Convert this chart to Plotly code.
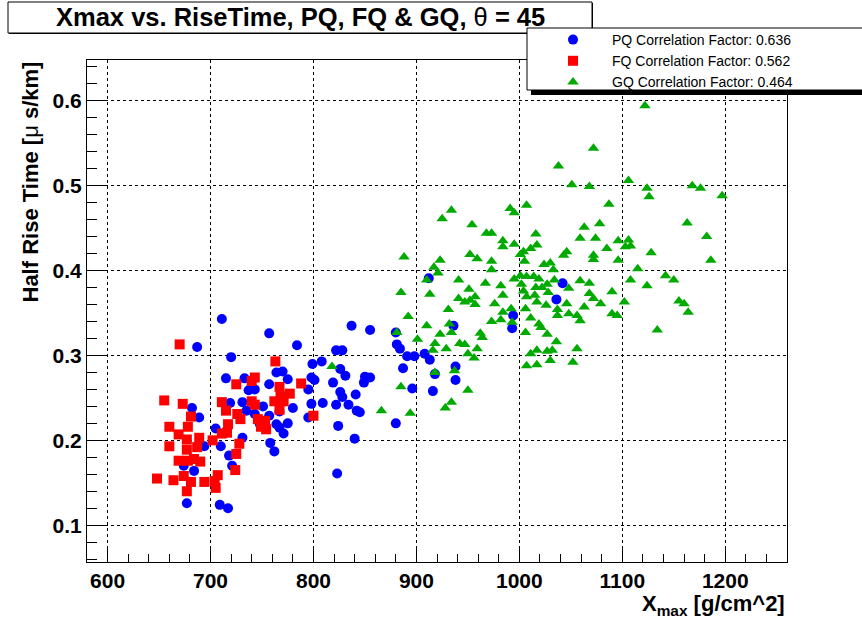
import plotly.graph_objects as go

# ---- data: Xmax [g/cm^2] vs half rise time [us/km] ----
pq_x = [711, 687, 720, 715, 733, 737, 719, 731, 735, 682, 689, 705, 694, 710, 731, 718, 721, 674, 684, 677, 709, 717,
        757, 784, 822, 808, 799, 764, 770, 775, 757, 798, 801, 795, 819, 809, 822, 743, 751, 780, 798, 795, 757, 764,
        775, 771, 748, 743, 758, 762, 824, 823, 767, 767,
        837, 855, 880, 881, 884, 828, 826, 831, 850, 855, 849, 826, 828, 841, 834, 842, 845, 840, 887, 891, 898, 896, 880,
        912, 936, 908, 913, 938, 918, 938, 916, 994, 993, 1042, 1036]
pq_y = [0.343, 0.310, 0.298, 0.273, 0.273, 0.259, 0.244, 0.245, 0.235, 0.238, 0.227, 0.214, 0.193, 0.193, 0.203, 0.182,
        0.170, 0.170, 0.164, 0.126, 0.124, 0.120,
        0.326, 0.312, 0.306, 0.293, 0.290, 0.280, 0.281, 0.272, 0.266, 0.274, 0.271, 0.260, 0.268, 0.244, 0.242, 0.260,
        0.240, 0.238, 0.243, 0.227, 0.229, 0.219, 0.220, 0.208, 0.219, 0.231, 0.197, 0.187, 0.217, 0.161, 0.234, 0.215,
        0.335, 0.330, 0.327, 0.313, 0.308, 0.306, 0.284, 0.276, 0.275, 0.274, 0.268, 0.257, 0.251, 0.254, 0.242, 0.235,
        0.233, 0.202, 0.285, 0.299, 0.299, 0.261, 0.220,
        0.391, 0.335, 0.302, 0.295, 0.287, 0.278, 0.271, 0.258, 0.347, 0.332, 0.385, 0.366]

fq_x = [670, 655, 673, 681, 660, 678, 669, 660, 677, 689, 677, 687, 669, 678, 690, 684, 648, 664, 674, 681,
        694, 677, 705, 707, 704, 702, 711, 715, 725, 726, 729, 717, 716, 711, 728, 725, 724,
        763, 743, 740, 767, 777, 788, 768, 762, 767, 740, 743, 746, 753, 754, 749, 800, 771]
fq_y = [0.313, 0.247, 0.243, 0.228, 0.216, 0.216, 0.207, 0.193, 0.201, 0.203, 0.189, 0.192, 0.176, 0.176, 0.175,
        0.178, 0.155, 0.153, 0.158, 0.151, 0.151, 0.140, 0.144, 0.159, 0.152, 0.200, 0.245, 0.235, 0.266, 0.231,
        0.225, 0.219, 0.209, 0.208, 0.196, 0.184, 0.165,
        0.293, 0.274, 0.270, 0.263, 0.255, 0.267, 0.252, 0.246, 0.236, 0.246, 0.242, 0.225, 0.223, 0.213, 0.216,
        0.229, 0.246]

gq_x = [888, 885, 892, 881, 901, 818, 885, 866, 894,
        934, 925, 954, 991, 995, 1007, 968, 973, 984, 984, 995, 1016, 1017, 1011, 1004, 1001, 1005, 952, 959, 923,
        917, 921, 973, 973, 910, 941, 967, 982, 995, 1001, 1007, 1014, 1019, 1024, 1027, 1002, 1004, 1016, 1022,
        951, 913, 957, 984, 941, 947, 952, 957, 1007, 1015, 1017, 1026, 976, 931, 992, 984, 982, 1006, 1011, 973,
        993, 910, 932, 1019, 1021, 934, 962, 964, 1006, 1027, 923, 918, 942, 947, 929, 959, 950, 956, 916, 1011,
        1017, 1007, 1017, 918, 937, 950, 934, 928,
        1027, 1032, 1030, 1052,
        1122, 1072, 1038, 1051, 1068, 1106, 1124, 1126, 1087, 1063, 1078, 1059, 1074, 1096, 1106, 1108, 1103, 1085,
        1046, 1043, 1072, 1072, 1096, 1128, 1030, 1033, 1115, 1142, 1034, 1059, 1068, 1108, 1124, 1028, 1048, 1068,
        1072, 1090, 1079, 1102, 1046, 1063, 1037, 1048, 1056, 1037, 1090, 1095, 1059, 1134, 1036, 1056,
        1168, 1176, 1197, 1163, 1182, 1186, 1150, 1155, 1160, 1164]
gq_y = [0.416, 0.374, 0.346, 0.327, 0.319, 0.287, 0.263, 0.235, 0.232,
        0.471, 0.461, 0.454, 0.473, 0.468, 0.477, 0.444, 0.444, 0.435, 0.428, 0.431, 0.443, 0.430, 0.426, 0.422,
        0.419, 0.411, 0.419, 0.414, 0.412, 0.404, 0.397, 0.411, 0.401, 0.389, 0.389, 0.385, 0.382, 0.390, 0.394,
        0.393, 0.393, 0.390, 0.407, 0.384, 0.384, 0.376, 0.380, 0.380, 0.378, 0.372, 0.369, 0.371, 0.367, 0.363,
        0.365, 0.360, 0.369, 0.371, 0.363, 0.359, 0.361, 0.354, 0.355, 0.351, 0.342, 0.355, 0.344, 0.340, 0.339,
        0.335, 0.337, 0.337, 0.333, 0.327, 0.326, 0.321, 0.327, 0.325, 0.325, 0.314, 0.314, 0.313, 0.308, 0.308,
        0.302, 0.297, 0.306, 0.302, 0.306, 0.288, 0.289, 0.280, 0.282, 0.259, 0.245, 0.238,
        0.305, 0.306, 0.294, 0.292,
        0.594, 0.544, 0.523, 0.501, 0.499, 0.506, 0.497, 0.487, 0.478, 0.451, 0.455, 0.438, 0.438, 0.435, 0.436,
        0.429, 0.428, 0.426, 0.422, 0.418, 0.418, 0.413, 0.412, 0.421, 0.409, 0.401, 0.402, 0.394, 0.389, 0.388,
        0.385, 0.389, 0.382, 0.374, 0.379, 0.373, 0.367, 0.375, 0.361, 0.363, 0.361, 0.357, 0.354, 0.349, 0.347,
        0.347, 0.349, 0.347, 0.341, 0.330, 0.316, 0.308,
        0.500, 0.497, 0.488, 0.456, 0.440, 0.412, 0.389, 0.364, 0.361, 0.351]

series_names = ["PQ Correlation Factor: 0.636",
                "FQ Correlation Factor: 0.562",
                "GQ Correlation Factor: 0.464"]

x_ticks = [600, 700, 800, 900, 1000, 1100, 1200]
y_ticks = [0.1, 0.2, 0.3, 0.4, 0.5, 0.6]
y_tick_text = ["0.1", "0.2", "0.3", "0.4", "0.5", "0.6"]

# ---- canvas geometry (pixels) ----
W, H = 862, 620
ML, MR, MT, MB = 87, 75, 60, 58
PW, PH = W - ML - MR, H - MT - MB


def fx(p):
    """pixel column -> paper x"""
    return (p - ML) / PW


def fy(p):
    """pixel row -> paper y"""
    return (H - MB - p) / PH


FONT = "Liberation Sans, Arial, Helvetica, sans-serif"

fig = go.Figure()
fig.add_trace(go.Scatter(x=pq_x, y=pq_y, mode="markers", name=series_names[0],
                         marker=dict(symbol="circle", size=10, color="#0000ff", line=dict(width=0))))
fig.add_trace(go.Scatter(x=fq_x, y=fq_y, mode="markers", name=series_names[1],
                         marker=dict(symbol="square", size=10, color="#ff0000", line=dict(width=0))))
fig.add_trace(go.Scatter(x=gq_x, y=gq_y, mode="markers", name=series_names[2],
                         marker=dict(symbol="triangle-up", size=10, color="#00aa00", line=dict(width=0))))

axis_common = dict(
    showline=True, linecolor="black", linewidth=1, mirror=True,
    showgrid=True, gridcolor="black", gridwidth=1, griddash="dot",
    zeroline=False, ticks="inside", tickcolor="black", tickwidth=1,
    tickfont=dict(family=FONT, size=21, color="black", weight="bold"),
)

fig.update_xaxes(range=[580, 1260], tickvals=x_ticks, ticklen=16,
                 minor=dict(dtick=20, tick0=600, ticks="inside", ticklen=8, tickcolor="black", showgrid=False),
                 **axis_common)
fig.update_yaxes(range=[0.0567, 0.648], tickvals=y_ticks, ticktext=y_tick_text, ticklen=20,
                 minor=dict(dtick=0.02, tick0=0.0, ticks="inside", ticklen=10, tickcolor="black", showgrid=False),
                 **axis_common)

shapes = [
    # title pave: thin shadow then box
    dict(type="rect", xref="paper", yref="paper", x0=fx(9), x1=fx(593), y0=fy(34), y1=fy(3),
         fillcolor="black", line=dict(width=0), layer="above"),
    dict(type="rect", xref="paper", yref="paper", x0=fx(8), x1=fx(592), y0=fy(33), y1=fy(2),
         fillcolor="white", line=dict(color="black", width=1), layer="above"),
    # legend pave: shadow then box
    dict(type="rect", xref="paper", yref="paper", x0=fx(531), x1=fx(W + 5), y0=fy(95), y1=fy(86),
         fillcolor="black", line=dict(width=0), layer="above"),
    dict(type="rect", xref="paper", yref="paper", x0=fx(527), x1=fx(W + 5), y0=fy(90), y1=fy(28),
         fillcolor="white", line=dict(color="black", width=1), layer="above"),
]

annotations = [
    dict(text="<b>Xmax vs. RiseTime, PQ, FQ &amp; GQ, </b>θ<b> = 45</b>",
         xref="paper", yref="paper", x=fx(300), y=fy(17), xanchor="center", yanchor="middle",
         showarrow=False, font=dict(family=FONT, size=25.5, color="black")),
    dict(text="<b>Half Rise Time [</b>μ<b> s/km]</b>", textangle=-90,
         xref="paper", yref="paper", x=fx(30), y=1.0, xanchor="center", yanchor="top",
         showarrow=False, font=dict(family=FONT, size=22, color="black")),
    dict(text="<b>X<sub>max</sub> [g/cm^2]</b>",
         xref="paper", yref="paper", x=1.0, y=fy(605), xanchor="right", yanchor="middle",
         showarrow=False, font=dict(family=FONT, size=22, color="black")),
]

fig.update_layout(
    width=W, height=H,
    margin=dict(l=ML, r=MR, t=MT, b=MB, pad=0),
    paper_bgcolor="white", plot_bgcolor="white",
    font=dict(family=FONT, color="black"),
    showlegend=True,
    legend=dict(x=fx(534), y=fy(24), xanchor="left", yanchor="top",
                bgcolor="rgba(0,0,0,0)", borderwidth=0,
                font=dict(family=FONT, size=14, color="black"),
                itemwidth=68, tracegroupgap=0),
    shapes=shapes,
    annotations=annotations,
)

fig.write_html("out.html")
